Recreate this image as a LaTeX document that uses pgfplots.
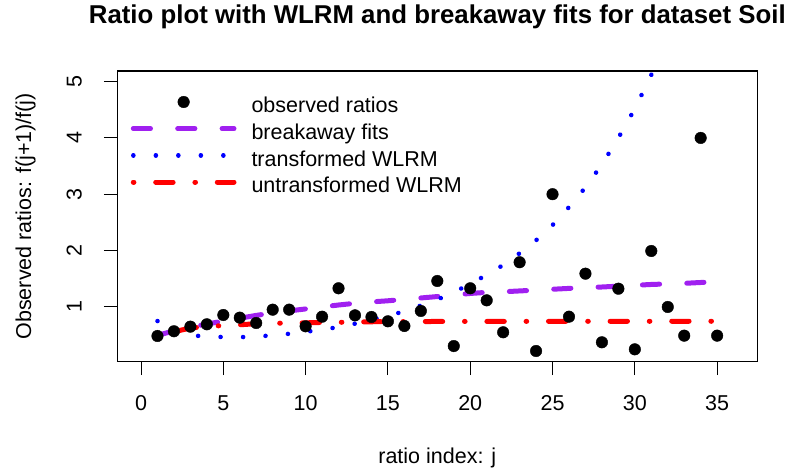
\documentclass[border=0pt]{standalone}
\usepackage{fontspec}
\setmainfont{Liberation Sans}
\usepackage{pgfplots}
\usepackage{pgfplotstable}
\pgfplotsset{compat=1.18}
\definecolor{rpurple}{HTML}{A020F0}
\newcommand{\basefont}{\fontsize{21.58}{26}\selectfont}
\newcommand{\titlefont}{\fontsize{25.9}{31}\selectfont\bfseries}
\pgfplotsset{
  markleg/.style={legend image code/.code={\draw[mark repeat=2,mark phase=2,##1] plot coordinates {(0bp,5.4bp) (50.35bp,5.4bp) (100.7bp,5.4bp)};}},
  lineleg/.style={legend image code/.code={\draw[##1] (0bp,5.4bp) -- (100.7bp,5.4bp);}},
}

\pgfplotstableread{
j v
1 0.479
2 0.563
3 0.645
4 0.687
5 0.852
6 0.805
7 0.710
8 0.947
9 0.947
10 0.651
11 0.822
12 1.327
13 0.846
14 0.817
15 0.740
16 0.657
17 0.924
18 1.457
19 0.300
20 1.327
21 1.113
22 0.545
23 1.790
24 0.212
25 3.000
26 0.822
27 1.587
28 0.367
29 1.320
30 0.242
31 1.990
32 0.995
33 0.485
34 4.000
35 0.485
}\obs

\pgfplotstableread{
j v
1 0.490
2 0.570
3 0.635
4 0.690
5 0.745
6 0.795
7 0.845
8 0.890
9 0.925
10 0.960
11 0.995
12 1.030
13 1.060
14 1.085
15 1.105
16 1.130
17 1.155
18 1.180
19 1.210
20 1.235
21 1.255
22 1.265
23 1.280
24 1.295
25 1.310
26 1.325
27 1.340
28 1.350
29 1.365
30 1.380
31 1.395
32 1.405
33 1.415
34 1.430
35 1.440
}\brk

\pgfplotstableread{
j v
1 0.745
2 0.520
3 0.490
4 0.470
5 0.460
6 0.458
7 0.470
8 0.490
9 0.518
10 0.553
11 0.592
12 0.637
13 0.698
14 0.765
15 0.838
16 0.918
17 1.020
18 1.125
19 1.255
20 1.405
21 1.565
22 1.740
23 1.950
24 2.180
25 2.450
26 2.770
27 3.120
28 3.530
29 4.000
30 4.520
31 5.120
32 5.800
33 6.600
34 7.500
35 8.500
}\trw

\pgfplotstableread{
j v
1 0.490
2 0.555
3 0.620
4 0.648
5 0.665
6 0.678
7 0.698
8 0.705
9 0.708
10 0.713
11 0.720
12 0.722
13 0.728
14 0.732
15 0.734
16 0.735
17 0.736
18 0.737
19 0.737
20 0.738
21 0.738
22 0.738
23 0.739
24 0.739
25 0.739
26 0.739
27 0.740
28 0.740
29 0.740
30 0.740
31 0.740
32 0.741
33 0.741
34 0.741
35 0.741
}\urw

\begin{document}
\begin{tikzpicture}
\useasboundingbox (0,0) rectangle (791bp,473bp);
\begin{axis}[
  at={(117.3bp,111.3bp)}, anchor=south west,
  scale only axis, width=640bp, height=290.7bp,
  xmin=-1.44, xmax=37.44, ymin=0.022, ymax=5.19,
  xtick={0,5,...,35}, ytick={1,2,3,4,5},
  tick pos=left, tick align=outside, major tick length=13.3bp,
  every tick/.style={black, line width=1bp},
  axis line style={line width=1.1bp},
  /pgf/number format/assume math mode=true,
  tick label style={font=\basefont, inner sep=0pt},
  xticklabel style={anchor=base, yshift=-35.3bp},
  yticklabel style={xshift=-22.3bp, rotate=90, anchor=base},
  title={Ratio plot with WLRM and breakaway fits for dataset Soil},
  title style={font=\titlefont, at={(0.5,1)}, anchor=base, yshift=41.5bp, inner sep=0pt},
  xlabel={ratio index: j},
  xlabel style={font=\basefont, at={(axis description cs:0.5,0)}, anchor=base, yshift=-101.6bp, inner sep=0pt},
  ylabel={Observed ratios: f(j+1)/f(j)},
  ylabel style={font=\basefont, at={(axis description cs:-0.1345,0.5)}, anchor=base, inner sep=0pt},
  legend style={draw=none, fill=none, at={(0,1)}, anchor=north west,
    xshift=13.5bp, yshift=-25.2bp, inner sep=0pt, outer sep=0pt,
    row sep=6.67bp, column sep=15bp, font=\basefont,
    nodes={inner sep=0pt, text height=15.5bp, text depth=4.5bp}},
  legend cell align=left,
]
\addlegendimage{only marks, mark=*, mark size=5.8bp, black, markleg}
\addlegendentry{observed ratios}
\addlegendimage{rpurple, line width=5bp, line cap=round, dash pattern=on 17.2bp off 27.2bp, lineleg}
\addlegendentry{breakaway fits}
\addlegendimage{blue, line width=4.5bp, line cap=round, dash pattern=on 0.1bp off 22.4bp, lineleg}
\addlegendentry{transformed WLRM}
\addlegendimage{red, line width=5bp, line cap=round, dash pattern=on 0.6bp off 21.8bp on 17.4bp off 21.8bp, lineleg}
\addlegendentry{untransformed WLRM}

\addplot[forget plot, rpurple, line width=5bp, line cap=round, dash pattern=on 17.2bp off 27.2bp] table[x=j,y=v]{\brk};
\addplot[forget plot, blue, line width=4.5bp, line cap=round, dash pattern=on 0.1bp off 22.4bp] table[x=j,y=v]{\trw};
\addplot[forget plot, red, line width=5bp, line cap=round, dash pattern=on 0.6bp off 21.8bp on 17.4bp off 21.8bp] table[x=j,y=v]{\urw};
\addplot[forget plot, only marks, mark=*, mark size=5.8bp, black] table[x=j,y=v]{\obs};
\end{axis}
\end{tikzpicture}
\end{document}
